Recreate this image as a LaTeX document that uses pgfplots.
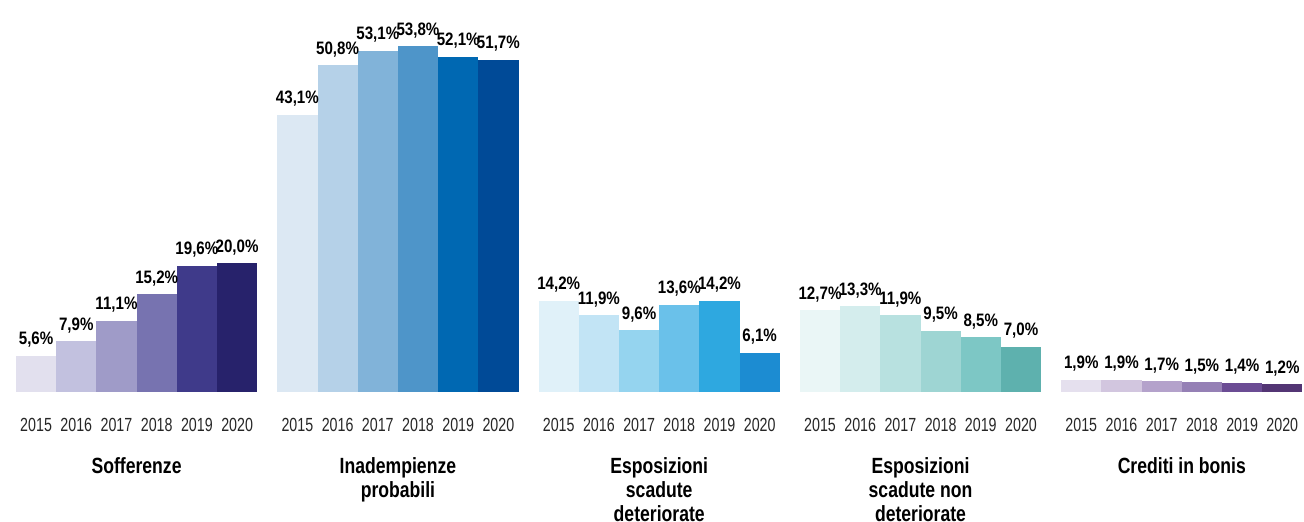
\documentclass[border=0pt]{standalone}
\usepackage{fontspec}
\setmainfont{Liberation Sans}[FakeStretch=0.82]
\newfontfamily\yearfont{Liberation Sans}[FakeStretch=0.75]
\newfontfamily\lblfont{Liberation Sans}[FakeStretch=0.84]
\newfontfamily\namefont{Liberation Sans}[FakeStretch=0.8]
\usepackage{pgfplots}
\pgfplotsset{compat=1.18}
\definecolor{a1}{HTML}{E2E0EE}\definecolor{a2}{HTML}{C2C1DF}\definecolor{a3}{HTML}{9F9BC8}
\definecolor{a4}{HTML}{7773B0}\definecolor{a5}{HTML}{3F3A8A}\definecolor{a6}{HTML}{27226B}
\definecolor{b1}{HTML}{DCE8F3}\definecolor{b2}{HTML}{B5D1E8}\definecolor{b3}{HTML}{81B3D9}
\definecolor{b4}{HTML}{4E95C9}\definecolor{b5}{HTML}{0068B2}\definecolor{b6}{HTML}{004A97}
\definecolor{c1}{HTML}{E0F1F9}\definecolor{c2}{HTML}{C2E4F5}\definecolor{c3}{HTML}{95D4EF}
\definecolor{c4}{HTML}{6AC1EA}\definecolor{c5}{HTML}{2EA8E0}\definecolor{c6}{HTML}{1C8CD2}
\definecolor{d1}{HTML}{EAF6F6}\definecolor{d2}{HTML}{D4EDED}\definecolor{d3}{HTML}{B8E1E0}
\definecolor{d4}{HTML}{9ED5D3}\definecolor{d5}{HTML}{7DC7C5}\definecolor{d6}{HTML}{5EB1AE}
\definecolor{e1}{HTML}{E5E0EE}\definecolor{e2}{HTML}{D2C6DF}\definecolor{e3}{HTML}{B4A2CB}
\definecolor{e4}{HTML}{9580B5}\definecolor{e5}{HTML}{6B4C94}\definecolor{e6}{HTML}{533574}
\tikzset{gname/.style={font=\namefont\bfseries\fontsize{11}{12}\selectfont, align=center, anchor=north, inner sep=0pt, yshift=-32.5pt}}
\begin{document}
\begin{tikzpicture}
\useasboundingbox (0,0) rectangle (652pt,261pt);
\begin{axis}[
  at={(8pt,65pt)}, anchor=south west,
  scale only axis, width=643.2pt, height=192.9pt,
  xmin=-0.5, xmax=31.5, ymin=0, ymax=60,
  clip=false,
  axis line style={draw=none},
  major tick length=0pt,
  ytick=\empty,
  xtick={0,1,2,3,4,5,6.5,7.5,8.5,9.5,10.5,11.5,13,14,15,16,17,18,19.5,20.5,21.5,22.5,23.5,24.5,26,27,28,29,30,31},
  xticklabels={2015,2016,2017,2018,2019,2020,2015,2016,2017,2018,2019,2020,2015,2016,2017,2018,2019,2020,2015,2016,2017,2018,2019,2020,2015,2016,2017,2018,2019,2020},
  xticklabel style={font=\yearfont\fontsize{9.5}{10}\selectfont, anchor=base, yshift=-19.8pt, inner sep=0pt, text=black!85},
  b/.style={ybar, bar width=1, bar shift=0pt, draw=none, fill=#1,
    nodes near coords={\pgfmathprintnumber[fixed,fixed zerofill,precision=1,use comma,assume math mode=true]{\pgfplotspointmeta}\%},
    every node near coord/.append style={font=\lblfont\bfseries\fontsize{9}{10}\selectfont, anchor=base, inner sep=0pt, yshift=5.5pt, text=black}},
]
\addplot[b=a1] coordinates {(0,5.6)};
\addplot[b=a2] coordinates {(1,7.9)};
\addplot[b=a3] coordinates {(2,11.1)};
\addplot[b=a4] coordinates {(3,15.2)};
\addplot[b=a5] coordinates {(4,19.6)};
\addplot[b=a6] coordinates {(5,20.0)};
\addplot[b=b1] coordinates {(6.5,43.1)};
\addplot[b=b2] coordinates {(7.5,50.8)};
\addplot[b=b3] coordinates {(8.5,53.1)};
\addplot[b=b4] coordinates {(9.5,53.8)};
\addplot[b=b5] coordinates {(10.5,52.1)};
\addplot[b=b6] coordinates {(11.5,51.7)};
\addplot[b=c1] coordinates {(13,14.2)};
\addplot[b=c2] coordinates {(14,11.9)};
\addplot[b=c3] coordinates {(15,9.6)};
\addplot[b=c4] coordinates {(16,13.6)};
\addplot[b=c5] coordinates {(17,14.2)};
\addplot[b=c6] coordinates {(18,6.1)};
\addplot[b=d1] coordinates {(19.5,12.7)};
\addplot[b=d2] coordinates {(20.5,13.3)};
\addplot[b=d3] coordinates {(21.5,11.9)};
\addplot[b=d4] coordinates {(22.5,9.5)};
\addplot[b=d5] coordinates {(23.5,8.5)};
\addplot[b=d6] coordinates {(24.5,7.0)};
\addplot[b=e1] coordinates {(26,1.9)};
\addplot[b=e2] coordinates {(27,1.9)};
\addplot[b=e3] coordinates {(28,1.7)};
\addplot[b=e4] coordinates {(29,1.5)};
\addplot[b=e5] coordinates {(30,1.4)};
\addplot[b=e6] coordinates {(31,1.2)};
\node[gname] at (axis cs:2.5,0) {Sofferenze};
\node[gname] at (axis cs:9,0) {Inadempienze\\probabili};
\node[gname] at (axis cs:15.5,0) {Esposizioni\\scadute\\deteriorate};
\node[gname] at (axis cs:22,0) {Esposizioni\\scadute non\\deteriorate};
\node[gname] at (axis cs:28.5,0) {Crediti in bonis};
\end{axis}
\end{tikzpicture}
\end{document}
